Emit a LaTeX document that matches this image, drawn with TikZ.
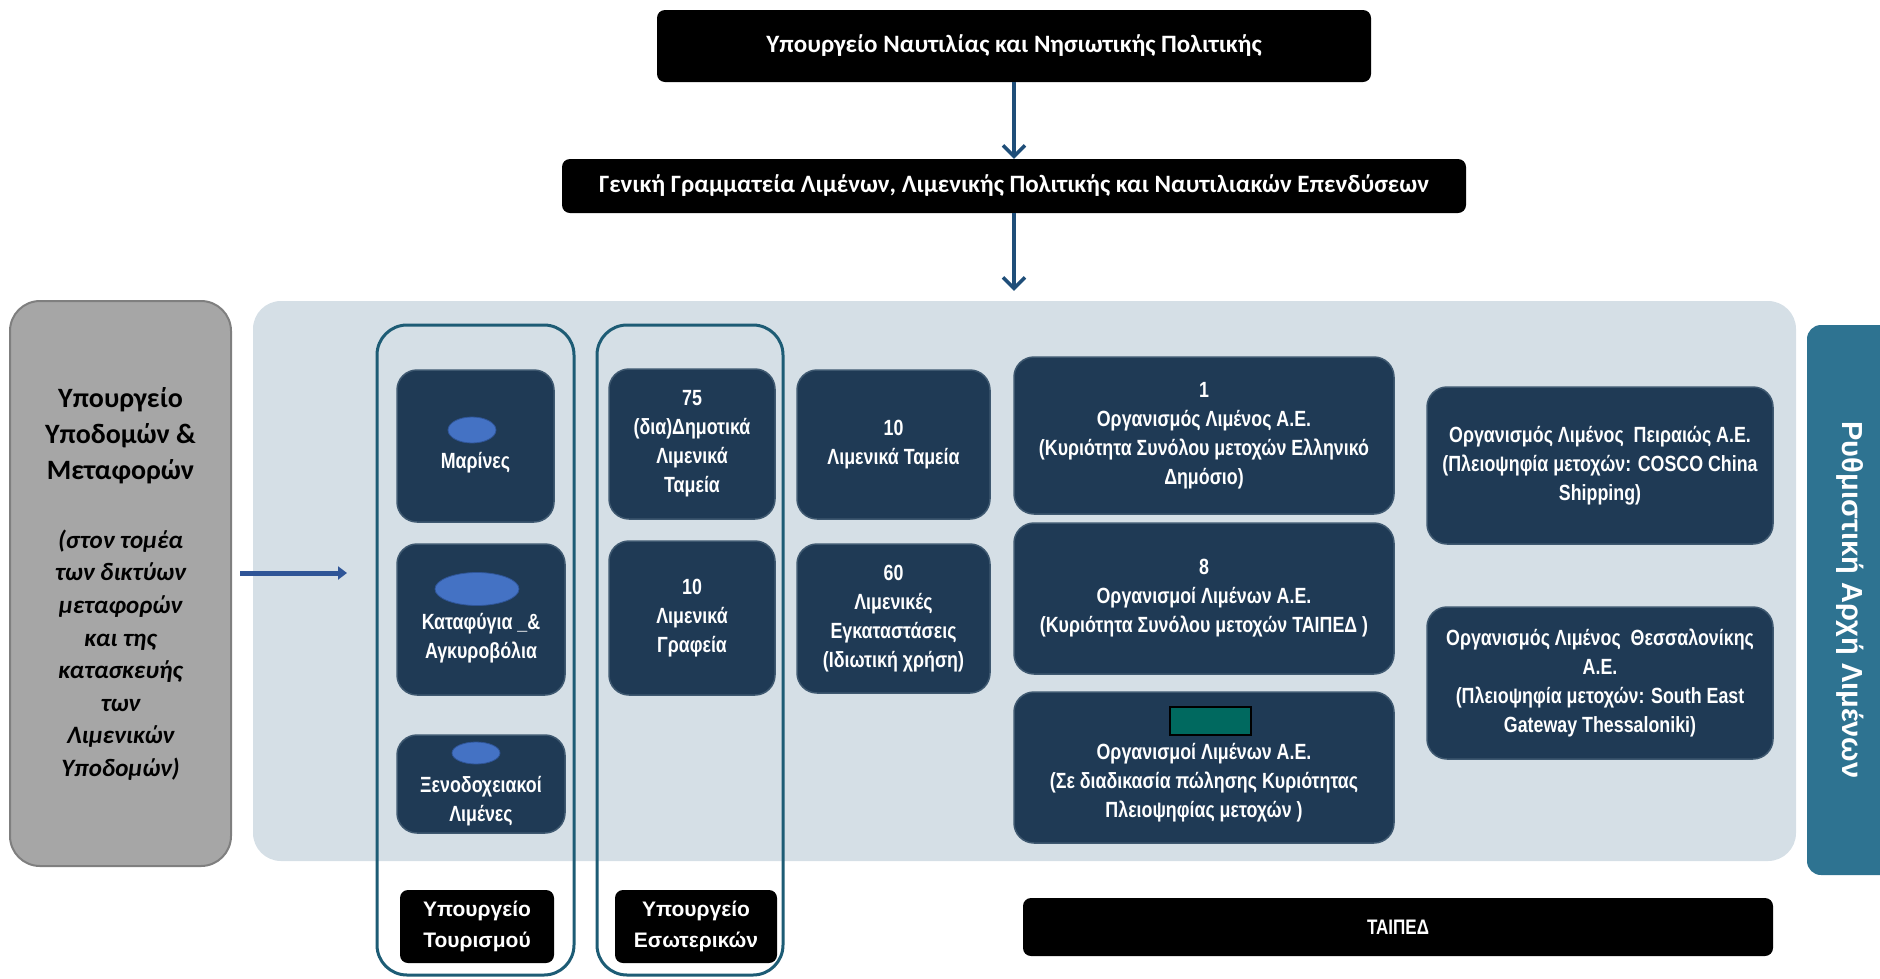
\documentclass[tikz,border=0pt]{standalone}
\usepackage{fontspec}
\setmainfont{Carlito}
\newfontfamily\narrowsans[FakeStretch=0.81]{Liberation Sans}
\newfontfamily\plainsans{Liberation Sans}
\usetikzlibrary{arrows.meta,shapes.geometric}

\definecolor{navy}{HTML}{1F3A55}
\definecolor{navyedge}{HTML}{3E5870}
\definecolor{panelfill}{HTML}{D5DFE6}
\definecolor{groupline}{HTML}{1D5C75}
\definecolor{regteal}{HTML}{2E7391}
\definecolor{flowblue}{HTML}{1F4E79}
\definecolor{sideblue}{HTML}{2F5597}
\definecolor{markblue}{HTML}{4472C4}
\definecolor{markedge}{HTML}{2F5597}
\definecolor{saleteal}{HTML}{00695F}
\definecolor{greyfill}{HTML}{A6A6A6}
\definecolor{greyedge}{HTML}{7F7F7F}

\tikzset{
  headbox/.style={fill=black, rounded corners=8pt, text=white, inner sep=0pt,
    font=\bfseries\fontsize{25}{30}\selectfont},
  unit/.style={fill=navy, draw=navyedge, line width=1.5pt, rounded corners=20pt,
    inner sep=0pt, text=white, align=center,
    font=\narrowsans\bfseries\fontsize{22}{29}\selectfont},
  unittext/.style={text=white, align=center, inner sep=0pt,
    font=\narrowsans\bfseries\fontsize{22}{29}\selectfont},
  ministry/.style={fill=black, rounded corners=8pt, inner sep=0pt, text=white,
    align=center, font=\plainsans\bfseries\fontsize{21}{31}\selectfont},
  groupbox/.style={draw=groupline, line width=3pt, rounded corners=30pt, inner sep=0pt},
  marker/.style={ellipse, fill=markblue, draw=markedge, line width=0.8pt, inner sep=0pt},
  flow/.style={draw=flowblue, line width=3.5pt, -{Straight Barb[length=11pt,width=22pt]}},
  sidearrow/.style={draw=sideblue, line width=5pt, -{Triangle[length=9pt,width=13pt]}},
}

\begin{document}
\begin{tikzpicture}[x=1pt,y=-1pt]
\useasboundingbox (0,0) rectangle (1880,978);
\clip (0,0) rectangle (1880,978);

% top of the hierarchy
\node[headbox, minimum width=714, minimum height=72] (ministry) at (1014,46)
  {Υπουργείο Ναυτιλίας και Νησιωτικής Πολιτικής};
\node[headbox, minimum width=904, minimum height=54] (secretariat) at (1014,186)
  {Γενική Γραμματεία Λιμένων, Λιμενικής Πολιτικής και Ναυτιλιακών Επενδύσεων};

% shaded area holding the port bodies
\node[fill=panelfill, rounded corners=28pt, minimum width=1543, minimum height=560,
  inner sep=0pt] (panel) at (1024.5,581) {};

\draw[flow] (ministry.south) -- (secretariat.north);
\draw[flow, shorten >=10pt] (secretariat.south) -- (secretariat.south |- panel.north);

% infrastructure ministry on the left
\node[fill=greyfill, draw=greyedge, line width=2pt, rounded corners=30pt,
  minimum width=221, minimum height=565, inner sep=0pt] (infra) at (120.5,583.5) {};
\node[align=center, inner sep=0pt, font=\bfseries\fontsize{28}{36}\selectfont] (infrahead)
  at (120.5,436) {Υπουργείο\\Υποδομών \&\\Μεταφορών};
\node[align=center, inner sep=0pt, font=\bfseries\itshape\fontsize{25}{32.6}\selectfont] (infranote)
  at (120.5,655) {(στον τομέα\\των δικτύων\\μεταφορών\\και της\\κατασκευής\\των\\Λιμενικών\\Υποδομών)};
\coordinate (infratip) at (347,573);
\draw[sidearrow, shorten <=8pt] (infra.east |- infratip) -- (infratip);

% ministry groupings
\node[groupbox, minimum width=197, minimum height=650] (tourismgroup) at (475.5,650) {};
\node[groupbox, minimum width=186, minimum height=650] (interiorgroup) at (690,650) {};

% tourism column
\node[unit, minimum width=157, minimum height=152] (marinas) at (475.5,446) {};
\node[marker, minimum width=48, minimum height=26] (marinasdot) at (472,430) {};
\node[unittext] (marinastext) at (475.5,463) {Μαρίνες};

\node[unit, minimum width=168, minimum height=151] (shelters) at (481,619.5) {};
\node[marker, minimum width=84, minimum height=33] (sheltersdot) at (477,589) {};
\node[unittext] (shelterstext) at (481,638) {Καταφύγια \_\&\\Αγκυροβόλια};

\node[unit, minimum width=168, minimum height=98] (hotelports) at (481,784) {};
\node[marker, minimum width=48, minimum height=22] (hotelportsdot) at (476,753) {};
\node[unittext] (hotelportstext) at (481,801) {Ξενοδοχειακοί\\Λιμένες};

\node[ministry, minimum width=154, minimum height=73] (tourism) at (477,926.5)
  {Υπουργείο\\Τουρισμού};

% interior column
\node[unit, minimum width=166, minimum height=150] (municipal) at (692,444)
  {75\\(δια)Δημοτικά\\Λιμενικά\\Ταμεία};
\node[unit, minimum width=166, minimum height=154] (offices) at (692,618)
  {10\\Λιμενικά\\Γραφεία};
\node[ministry, minimum width=162, minimum height=73] (interior) at (696,926.5)
  {Υπουργείο\\Εσωτερικών};

% port funds and private installations
\node[unit, minimum width=193, minimum height=149] (funds) at (893.5,444.5)
  {10\\Λιμενικά Ταμεία};
\node[unit, minimum width=193, minimum height=149] (private) at (893.5,618.5)
  {60\\Λιμενικές\\Εγκαταστάσεις\\(Ιδιωτική χρήση)};

% port authorities S.A.
\node[unit, minimum width=380, minimum height=157] (stateport) at (1204,435.5)
  {1\\Οργανισμός Λιμένος Α.Ε.\\(Κυριότητα Συνόλου μετοχών Ελληνικό\\Δημόσιο)};
\node[unit, minimum width=380, minimum height=151] (hradfports) at (1204,598.5)
  {8\\Οργανισμοί Λιμένων Α.Ε.\\(Κυριότητα Συνόλου μετοχών ΤΑΙΠΕΔ )};
\node[unit, minimum width=380, minimum height=151] (saleports) at (1204,767.5) {};
\node[fill=saleteal, draw=black, line width=1.2pt, minimum width=81, minimum height=28,
  inner sep=0pt] (salecount) at (1210.5,721) {};
\node[unittext] (saletext) at (1204,783)
  {Οργανισμοί Λιμένων Α.Ε.\\(Σε διαδικασία πώλησης Κυριότητας\\Πλειοψηφίας μετοχών )};

% privatised port authorities
\node[unit, minimum width=346, minimum height=157] (piraeus) at (1600,465.5)
  {Οργανισμός Λιμένος~~Πειραιώς Α.Ε.\\(Πλειοψηφία μετοχών: COSCO China\\Shipping)};
\node[unit, minimum width=346, minimum height=152] (thessaloniki) at (1600,683)
  {Οργανισμός Λιμένος~~Θεσσαλονίκης\\Α.Ε.\\(Πλειοψηφία μετοχών: South East\\Gateway Thessaloniki)};

\node[ministry, minimum width=750, minimum height=58,
  font=\narrowsans\bfseries\fontsize{21}{26}\selectfont] (hradf) at (1398,927) {ΤΑΙΠΕΔ};

% regulatory authority strip on the right
\node[fill=regteal, rounded corners=14pt, minimum width=107, minimum height=550,
  inner sep=0pt] (regulator) at (1860.5,600) {};
\node[rotate=-90, text=white, inner sep=0pt,
  font=\plainsans\bfseries\fontsize{29}{34}\selectfont] (regulatortext) at (1850,600)
  {Ρυθμιστική Αρχή Λιμένων};
\end{tikzpicture}
\end{document}
